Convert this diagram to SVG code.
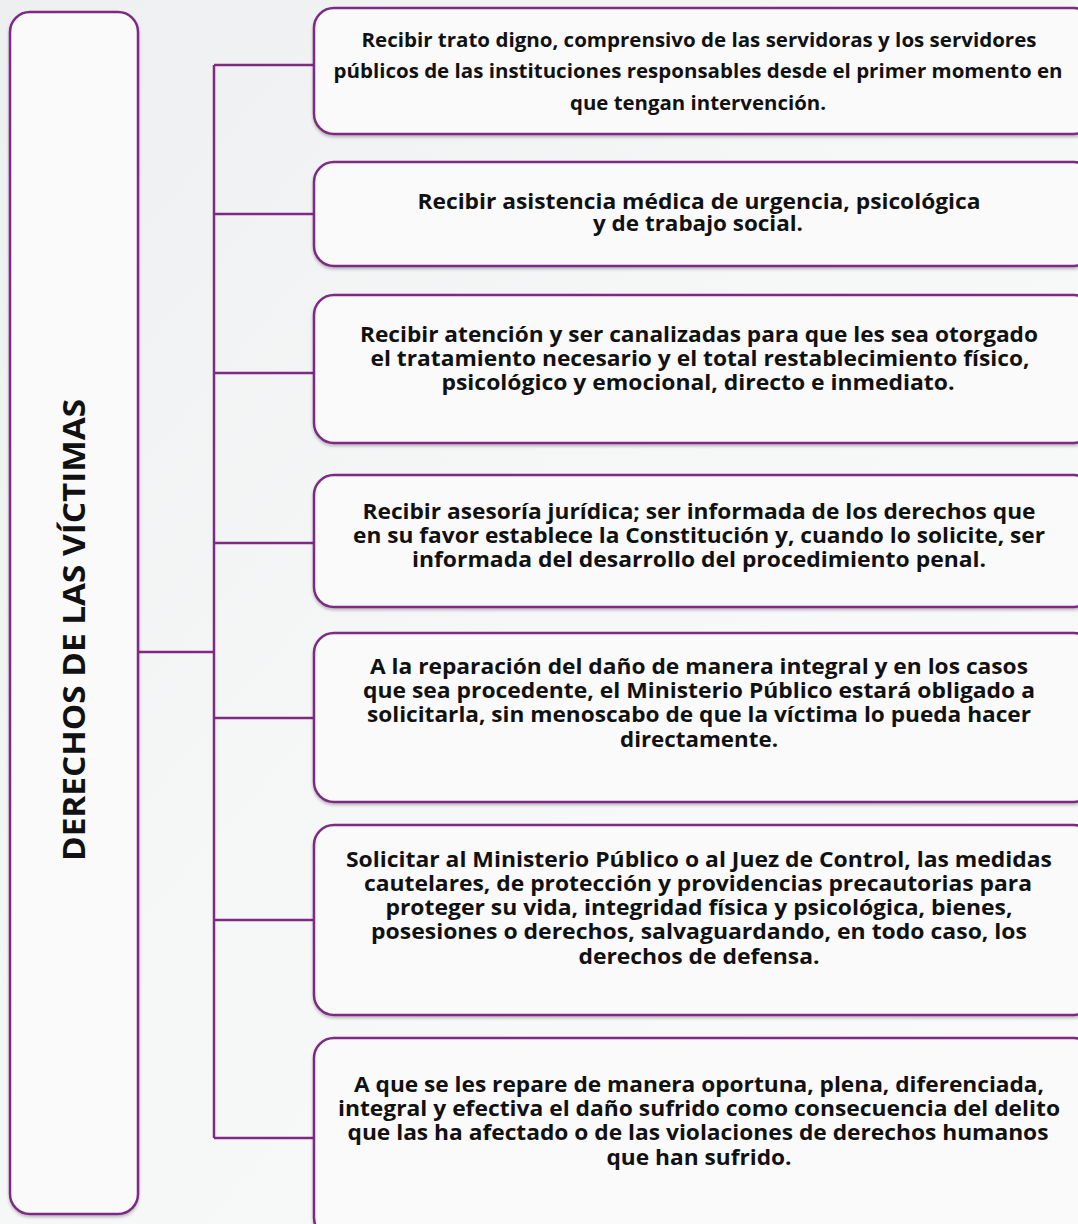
<svg xmlns="http://www.w3.org/2000/svg" width="1078" height="1224" viewBox="0 0 1078 1224">
<defs>
<linearGradient id="bg" x1="0" y1="0" x2="1" y2="1">
<stop offset="0" stop-color="#eeeff0"/>
<stop offset="0.5" stop-color="#f6f7f7"/>
<stop offset="1" stop-color="#fafafa"/>
</linearGradient>
<filter id="sh" x="-5%" y="-10%" width="110%" height="125%">
<feDropShadow dx="0" dy="2" stdDeviation="1.5" flood-color="#000" flood-opacity="0.25"/>
</filter>
<style>
.box{fill:#fafafa;stroke:#7e2a84;stroke-width:2.5;filter:url(#sh)}
.con{fill:none;stroke:#7e2a84;stroke-width:2.5}
.t{font-family:"Open Sans","Noto Sans",sans-serif;font-weight:700;font-size:20.5px;fill:#111;text-anchor:middle}
.t1{font-size:19px}
.title{font-family:"Open Sans","Noto Sans",sans-serif;font-weight:700;font-size:30px;fill:#111;text-anchor:middle}
</style>
</defs>
<rect width="1078" height="1224" fill="url(#bg)"/>
<g id="connectors">
<path class="con" d="M138 652 H214 M214 65 V1138 M214 65 H314 M214 214 H314 M214 373 H314 M214 543 H314 M214 718 H314 M214 920 H314 M214 1138 H314"/>
</g>
<g id="root">
<rect class="box" x="10" y="12" width="128" height="1202" rx="20"/>
<text class="title" transform="translate(85 630) rotate(-90)" textLength="462" lengthAdjust="spacingAndGlyphs">DERECHOS DE LAS VÍCTIMAS</text>
</g>
<g id="n1">
<rect class="box" x="314" y="8" width="780" height="126" rx="20"/>
<text class="t t1" x="699" y="47" textLength="675" lengthAdjust="spacingAndGlyphs">Recibir trato digno, comprensivo de las servidoras y los servidores</text>
<text class="t t1" x="698" y="78" textLength="729" lengthAdjust="spacingAndGlyphs">públicos de las instituciones responsables desde el primer momento en</text>
<text class="t t1" x="698" y="110" textLength="256" lengthAdjust="spacingAndGlyphs">que tengan intervención.</text>
</g>
<g id="n2">
<rect class="box" x="314" y="162" width="780" height="104" rx="20"/>
<text class="t" x="699" y="209" textLength="563" lengthAdjust="spacingAndGlyphs">Recibir asistencia médica de urgencia, psicológica</text>
<text class="t" x="698" y="231" textLength="210" lengthAdjust="spacingAndGlyphs">y de trabajo social.</text>
</g>
<g id="n3">
<rect class="box" x="314" y="295" width="780" height="148" rx="20"/>
<text class="t" x="699" y="342" textLength="678" lengthAdjust="spacingAndGlyphs">Recibir atención y ser canalizadas para que les sea otorgado</text>
<text class="t" x="700" y="366" textLength="659" lengthAdjust="spacingAndGlyphs">el tratamiento necesario y el total restablecimiento físico,</text>
<text class="t" x="698" y="390" textLength="513" lengthAdjust="spacingAndGlyphs">psicológico y emocional, directo e inmediato.</text>
</g>
<g id="n4">
<rect class="box" x="314" y="475" width="780" height="132" rx="20"/>
<text class="t" x="699" y="519" textLength="673" lengthAdjust="spacingAndGlyphs">Recibir asesoría jurídica; ser informada de los derechos que</text>
<text class="t" x="699" y="543" textLength="692" lengthAdjust="spacingAndGlyphs">en su favor establece la Constitución y, cuando lo solicite, ser</text>
<text class="t" x="699" y="567" textLength="574" lengthAdjust="spacingAndGlyphs">informada del desarrollo del procedimiento penal.</text>
</g>
<g id="n5">
<rect class="box" x="314" y="633" width="780" height="169" rx="20"/>
<text class="t" x="699" y="674" textLength="658" lengthAdjust="spacingAndGlyphs">A la reparación del daño de manera integral y en los casos</text>
<text class="t" x="699" y="698" textLength="672" lengthAdjust="spacingAndGlyphs">que sea procedente, el Ministerio Público estará obligado a</text>
<text class="t" x="699" y="722" textLength="664" lengthAdjust="spacingAndGlyphs">solicitarla, sin menoscabo de que la víctima lo pueda hacer</text>
<text class="t" x="699" y="747" textLength="158" lengthAdjust="spacingAndGlyphs">directamente.</text>
</g>
<g id="n6">
<rect class="box" x="314" y="825" width="780" height="190" rx="20"/>
<text class="t" x="699" y="867" textLength="706" lengthAdjust="spacingAndGlyphs">Solicitar al Ministerio Público o al Juez de Control, las medidas</text>
<text class="t" x="698" y="891" textLength="668" lengthAdjust="spacingAndGlyphs">cautelares, de protección y providencias precautorias para</text>
<text class="t" x="699" y="915" textLength="627" lengthAdjust="spacingAndGlyphs">proteger su vida, integridad física y psicológica, bienes,</text>
<text class="t" x="699" y="939" textLength="656" lengthAdjust="spacingAndGlyphs">posesiones o derechos, salvaguardando, en todo caso, los</text>
<text class="t" x="699" y="964" textLength="241" lengthAdjust="spacingAndGlyphs">derechos de defensa.</text>
</g>
<g id="n7">
<rect class="box" x="314" y="1038" width="780" height="200" rx="20"/>
<text class="t" x="699" y="1092" textLength="690" lengthAdjust="spacingAndGlyphs">A que se les repare de manera oportuna, plena, diferenciada,</text>
<text class="t" x="699" y="1116" textLength="722" lengthAdjust="spacingAndGlyphs">integral y efectiva el daño sufrido como consecuencia del delito</text>
<text class="t" x="698" y="1140" textLength="701" lengthAdjust="spacingAndGlyphs">que las ha afectado o de las violaciones de derechos humanos</text>
<text class="t" x="699" y="1165" textLength="185" lengthAdjust="spacingAndGlyphs">que han sufrido.</text>
</g>
</svg>
